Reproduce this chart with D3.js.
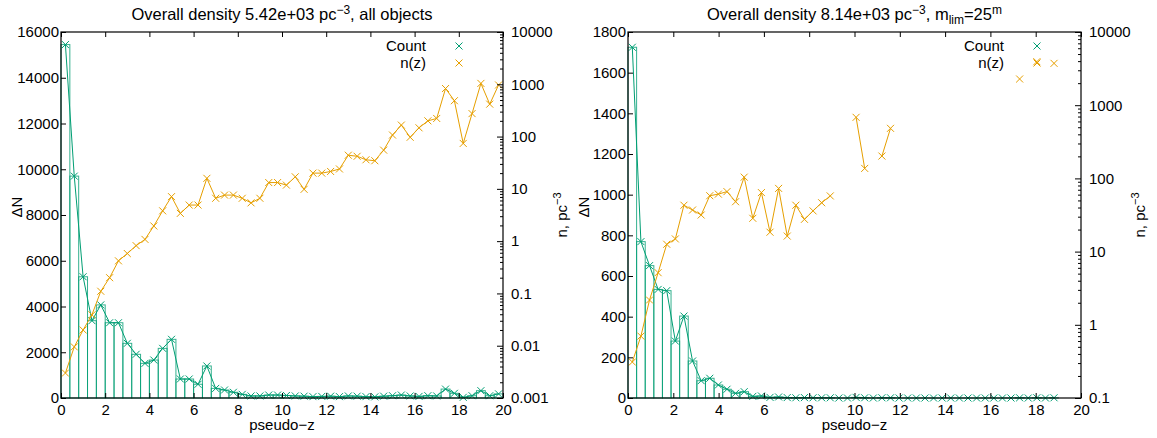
<!DOCTYPE html>
<html>
<head>
<meta charset="utf-8">
<script src="https://cdn.jsdelivr.net/npm/d3@7"></script>
<style>
  body { margin: 0; background: #fff; }
  svg { font-family: "Liberation Sans", Arial, sans-serif; }
  .axis path { display: none; }
  .axis line { stroke: #000; }
  .axis text { font-size: 15px; fill: #000; font-family: "Liberation Sans", Arial, sans-serif; }
  .label { font-size: 15px; fill: #000; }
</style>
</head>
<body>
<svg id="Vis" width="1157" height="438"></svg>
<script>
/*
* DATA
*/

/* left panel: all objects, 50 bins of 0.4 */
const countAll = [15450, 9700, 5300, 3380, 4070, 3290, 3290, 2390, 1910, 1515,
  1660, 2170, 2565, 830, 830, 600, 1400, 420, 350, 250,
  160, 90, 90, 130, 130, 110, 90, 80, 60, 70,
  80, 60, 90, 80, 60, 50, 80, 100, 130, 90,
  70, 100, 90, 390, 205, 30, 100, 320, 100, 180];
const densityAll = [0.003, 0.0095, 0.02, 0.039, 0.11, 0.2, 0.42, 0.58, 0.82, 1.08,
  1.95, 3.8, 7.1, 3.4, 4.9, 4.9, 15.9, 6.6, 7.6, 7.6,
  6.6, 5.4, 6.6, 13.2, 13.2, 11.8, 17, 9.8, 20, 20,
  21.5, 24, 44, 42, 36, 34.5, 55, 107, 166, 97,
  147, 200, 222, 830, 485, 74, 275, 1040, 417, 970];

/* right panel: m_lim = 25, 50 bins of 0.38 */
const countLim = [1725, 769, 651, 534, 528, 280, 403, 182, 85, 97,
  64, 43, 23, 31, 8, 10, 3, 5, 2, 1,
  2, 1, 1, 1, 0, 0, 3, 1, 0, 1,
  1, 0, 0, 0, 0, 0, 0, 0, 0, 0,
  0, 0, 0, 0, 0, 1, 0, 1, 0, 1];
const densityLim = [0.31, 0.70, 2.18, 5.15, 12.6, 14.9, 43, 37, 31.6, 58,
  61, 66, 48, 104, 28.5, 64, 18.4, 73, 16.3, 43,
  27.6, 36, 46.5, 57.6, null, null, 683, 137, null, 202,
  483, null, null, null, null, null, null, null, null, null,
  null, null, null, null, null, 2280, null, 3930, null, 3730];

const xTicks = [0, 2, 4, 6, 8, 10, 12, 14, 16, 18, 20];
const countTicksAll = [0, 2000, 4000, 6000, 8000, 10000, 12000, 14000, 16000];
const countTicksLim = [0, 200, 400, 600, 800, 1000, 1200, 1400, 1600, 1800];
const densTicksAll = [0.001, 0.01, 0.1, 1, 10, 100, 1000, 10000];
const densTicksLim = [0.1, 1, 10, 100, 1000, 10000];
const legendNames = ["Count", "n(z)"];

/*
* SETUP
*/

const svg = d3.select("svg#Vis");
const colors = { count: "#009e73", dens: "#e69f00" };
const crossPath = "M-3.5,-3.5L3.5,3.5M-3.5,3.5L3.5,-3.5";

/* title pieces: text, baseline shift, small? */
drawPanel({
  left: 61, right: 503, top: 32, bottom: 398,
  binWidth: 0.4,
  counts: countAll, density: densityAll,
  countTicks: countTicksAll, densTicks: densTicksAll,
  title: [["Overall density 5.42e+03 pc", 0, false], ["\u22123", -6, true], [", all objects", 6, false]]
});

drawPanel({
  left: 628, right: 1081, top: 32, bottom: 398,
  binWidth: 0.38,
  counts: countLim, density: densityLim,
  countTicks: countTicksLim, densTicks: densTicksLim,
  title: [["Overall density 8.14e+03 pc", 0, false], ["\u22123", -6, true], [", m", 6, false],
    ["lim", 4, true], ["=25", -4, false], ["m", -6, true]]
});

/*
* PANEL DRAWING
*/
function drawPanel(cfg) {
  const g = svg.append("g");

  const x = d3.scaleLinear().domain([0, 20]).range([cfg.left, cfg.right]);
  const y = d3.scaleLinear()
    .domain([0, cfg.countTicks[cfg.countTicks.length - 1]])
    .range([cfg.bottom, cfg.top]);
  const y2 = d3.scaleLog()
    .domain([cfg.densTicks[0], cfg.densTicks[cfg.densTicks.length - 1]])
    .range([cfg.bottom, cfg.top]);

  const bins = cfg.counts.map((c, i) => ({
    x0: i * cfg.binWidth,
    xc: (i + 0.5) * cfg.binWidth,
    count: c,
    n: cfg.density[i]
  }));

  /* Histogram boxes */
  g.append("g").selectAll("rect")
    .data(bins)
    .join("rect")
      .attr("x", d => x(d.x0))
      .attr("width", x(cfg.binWidth) - x(0))
      .attr("y", d => y(d.count))
      .attr("height", d => y(0) - y(d.count))
      .attr("fill", "none")
      .attr("stroke", colors.count)
      .attr("stroke-opacity", 0.8)
      .attr("stroke-width", 1);

  /* Count line */
  g.append("path")
    .datum(bins)
    .attr("d", d3.line().x(d => x(d.xc)).y(d => y(d.count)))
    .attr("fill", "none")
    .attr("stroke", colors.count)
    .attr("stroke-width", 1);

  g.append("g").selectAll("path")
    .data(bins)
    .join("path")
      .attr("transform", d => translate(x(d.xc), y(d.count)))
      .attr("d", crossPath)
      .attr("stroke", colors.count)
      .attr("stroke-width", 1);

  /* n(z) line */
  const dens = bins.filter(d => d.n != null);
  g.append("path")
    .datum(bins)
    .attr("d", d3.line().defined(d => d.n != null).x(d => x(d.xc)).y(d => y2(d.n)))
    .attr("fill", "none")
    .attr("stroke", colors.dens)
    .attr("stroke-width", 1);

  g.append("g").selectAll("path")
    .data(dens)
    .join("path")
      .attr("transform", d => translate(x(d.xc), y2(d.n)))
      .attr("d", crossPath)
      .attr("stroke", colors.dens)
      .attr("stroke-width", 1);

  /* Border */
  g.append("rect")
    .attr("x", cfg.left)
    .attr("y", cfg.top)
    .attr("width", cfg.right - cfg.left)
    .attr("height", cfg.bottom - cfg.top)
    .attr("fill", "none")
    .attr("stroke", "#000")
    .attr("stroke-width", 1.2);

  /* Axes */
  g.append("g")
    .attr("class", "axis")
    .attr("transform", translate(0, cfg.bottom))
    .call(d3.axisBottom(x).tickValues(xTicks).tickSize(-5).tickPadding(6));

  g.append("g")
    .attr("class", "axis")
    .attr("transform", translate(0, cfg.top))
    .call(d3.axisTop(x).tickValues(xTicks).tickSize(-5).tickFormat(""));

  g.append("g")
    .attr("class", "axis")
    .attr("transform", translate(cfg.left, 0))
    .call(d3.axisLeft(y).tickValues(cfg.countTicks).tickSize(-5).tickPadding(2)
      .tickFormat(d3.format("d")));

  g.append("g")
    .attr("class", "axis")
    .attr("transform", translate(cfg.right, 0))
    .call(d3.axisRight(y2).tickValues(cfg.densTicks).tickSize(-6).tickPadding(8)
      .tickFormat(d => String(d)));

  const minor = y2.ticks().filter(v => !cfg.densTicks.includes(v));
  g.append("g")
    .attr("class", "axis")
    .attr("transform", translate(cfg.right, 0))
    .call(d3.axisRight(y2).tickValues(minor).tickSize(-3).tickFormat(""));

  /* Labels */
  const midX = (cfg.left + cfg.right) / 2;
  const midY = (cfg.top + cfg.bottom) / 2;

  g.append("text")
    .attr("class", "label")
    .attr("x", midX)
    .attr("y", 430)
    .attr("text-anchor", "middle")
    .text("pseudo\u2212z");

  g.append("text")
    .attr("class", "label")
    .attr("transform", translate(cfg.left - 39, midY - 8) + " rotate(-90)")
    .attr("text-anchor", "middle")
    .text("\u0394N");

  const yl = g.append("text")
    .attr("class", "label")
    .attr("transform", translate(cfg.right + 64, midY) + " rotate(-90)")
    .attr("text-anchor", "middle");
  yl.append("tspan").text("n, pc");
  yl.append("tspan").attr("dy", -6).attr("font-size", 11).text("\u22123");

  const title = g.append("text")
    .attr("class", "label")
    .attr("x", midX)
    .attr("y", 20)
    .attr("font-size", 16.5)
    .attr("text-anchor", "middle");
  cfg.title.forEach(([s, dy, small]) => {
    title.append("tspan")
      .attr("dy", dy)
      .attr("font-size", small ? 12 : 16.5)
      .text(s);
  });

  /* Legend */
  const legend = g.append("g").attr("transform", translate(cfg.right - 44, 46));
  legendNames.forEach((name, i) => {
    legend.append("text")
      .attr("class", "label")
      .attr("x", -33)
      .attr("y", i * 17)
      .attr("dy", "0.35em")
      .attr("text-anchor", "end")
      .text(name);
    legend.append("path")
      .attr("transform", translate(0, i * 17))
      .attr("d", crossPath)
      .attr("stroke", i === 0 ? colors.count : colors.dens)
      .attr("stroke-width", 1);
  });
}

/*
* HELPER FUNCTIONS
*/
function translate(x, y) {
  return "translate(" + String(x) + "," + String(y) + ")";
}
</script>
</body>
</html>
